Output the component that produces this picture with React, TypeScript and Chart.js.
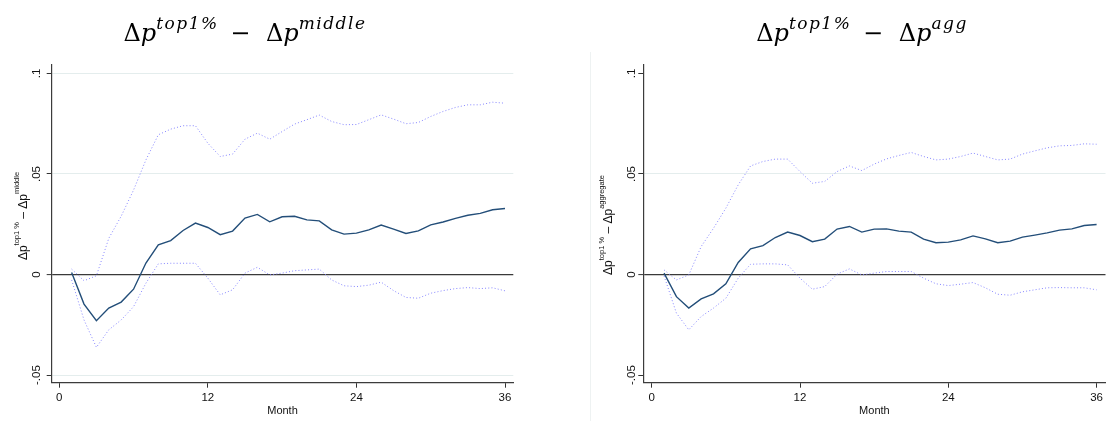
import React, { useEffect, useRef } from "react";
import { Chart, registerables } from "chart.js";

Chart.register(...registerables);

// Months after the shock
const months = [
  1, 2, 3, 4, 5, 6, 7, 8, 9, 10, 11, 12, 13, 14, 15, 16, 17, 18,
  19, 20, 21, 22, 23, 24, 25, 26, 27, 28, 29, 30, 31, 32, 33, 34, 35, 36,
];

// Top 1% minus middle: point estimate and confidence band
const middleEst = [
  0.001, -0.0147, -0.023, -0.0167, -0.0137, -0.0073, 0.0057, 0.0148, 0.0169, 0.0219, 0.0256, 0.0234,
  0.0198, 0.0216, 0.0281, 0.0299, 0.0262, 0.0287, 0.029, 0.0272, 0.0267, 0.0222, 0.0201, 0.0206,
  0.0222, 0.0246, 0.0226, 0.0204, 0.0217, 0.0247, 0.0261, 0.0279, 0.0295, 0.0304, 0.0322, 0.0328,
];
const middleUpper = [
  0.0027, -0.0031, -0.0006, 0.018, 0.029, 0.042, 0.057, 0.0695, 0.0723, 0.074, 0.074, 0.0653,
  0.0587, 0.0599, 0.0673, 0.0703, 0.0673, 0.0711, 0.0748, 0.077, 0.0793, 0.0761, 0.0745, 0.0746,
  0.077, 0.0794, 0.0773, 0.075, 0.0756, 0.0786, 0.0811, 0.0831, 0.0844, 0.0844, 0.0857, 0.0852,
];
const middleLower = [
  -0.0027, -0.0226, -0.0362, -0.0275, -0.0226, -0.016, -0.0043, 0.0053, 0.0056, 0.0056, 0.0056, -0.0018,
  -0.0101, -0.0076, 0.0007, 0.0036, -0.0002, 0.0007, 0.0019, 0.0023, 0.0027, -0.0027, -0.0056, -0.006,
  -0.0053, -0.0038, -0.008, -0.0114, -0.0118, -0.0093, -0.008, -0.007, -0.0065, -0.007, -0.0066, -0.0081,
];

// Top 1% minus aggregate: point estimate and confidence band
const aggEst = [
  0.0007, -0.011, -0.0167, -0.0121, -0.0096, -0.0046, 0.006, 0.0128, 0.0144, 0.0184, 0.0211, 0.0194,
  0.0163, 0.0176, 0.0226, 0.0239, 0.0211, 0.0226, 0.0227, 0.0216, 0.0211, 0.0176, 0.0158, 0.0161,
  0.0172, 0.0192, 0.0177, 0.0158, 0.0166, 0.0186, 0.0196, 0.0207, 0.0221, 0.0227, 0.0244, 0.0249,
];
const aggUpper = [
  0.0023, -0.0027, -0.0002, 0.0139, 0.023, 0.033, 0.0446, 0.054, 0.0562, 0.0574, 0.0574, 0.0512,
  0.0454, 0.0463, 0.0512, 0.054, 0.0517, 0.0549, 0.0575, 0.0592, 0.0607, 0.0587, 0.057, 0.0574,
  0.0587, 0.0604, 0.0587, 0.057, 0.0574, 0.0599, 0.0615, 0.063, 0.064, 0.0642, 0.065, 0.0648,
];
const aggLower = [
  -0.0007, -0.0192, -0.0275, -0.0209, -0.0167, -0.0118, -0.0018, 0.0051, 0.0053, 0.0053, 0.0048, -0.0018,
  -0.0073, -0.006, 0.0002, 0.0028, -0.0002, 0.0007, 0.0015, 0.0015, 0.0015, -0.0018, -0.0046, -0.0055,
  -0.0048, -0.004, -0.0066, -0.0098, -0.0103, -0.0086, -0.0076, -0.0066, -0.0065, -0.0066, -0.0066, -0.0076,
];

// Axis ticks
const xTicks = [0, 12, 24, 36];
const yTicks = [-0.05, 0, 0.05, 0.1];
const yTickLabels = ["-.05", "0", ".05", ".1"];
const yMin = -0.0538;
const yMax = 0.1042;

const CANVAS_H = 421;
const PLOT_TOP = 65;
const PLOT_BOTTOM = 382.7;

const SERIF = "'DejaVu Serif', 'Liberation Serif', serif";
const SANS = "'Liberation Sans', Arial, sans-serif";

type Seg = { text: string; font: string; rise?: number; spacing?: number };

function drawSegments(ctx: CanvasRenderingContext2D, segs: Seg[], cx: number, baseline: number) {
  const widths = segs.map((s) => {
    ctx.font = s.font;
    (ctx as any).letterSpacing = `${s.spacing ?? 0}px`;
    return ctx.measureText(s.text).width;
  });
  const total = widths.reduce((a, b) => a + b, 0);
  let x = cx - total / 2;
  ctx.textAlign = "left";
  ctx.textBaseline = "alphabetic";
  segs.forEach((s, i) => {
    ctx.font = s.font;
    (ctx as any).letterSpacing = `${s.spacing ?? 0}px`;
    ctx.fillText(s.text, x, baseline - (s.rise ?? 0));
    x += widths[i];
  });
  (ctx as any).letterSpacing = "0px";
}

function headline(sup2: string): Seg[] {
  const base = `24px ${SERIF}`;
  const it = `italic 24px ${SERIF}`;
  const sup = `italic 17px ${SERIF}`;
  return [
    { text: "Δ", font: base },
    { text: "p", font: it },
    { text: "top1%", font: sup, rise: 12, spacing: 1.5 },
    { text: " − ", font: base, spacing: 4 },
    { text: "Δ", font: base },
    { text: "p", font: it },
    { text: sup2, font: sup, rise: 12, spacing: 1.5 },
  ];
}

function axisTitle(sup2: string): Seg[] {
  const base = `12px ${SANS}`;
  const sup = `7.5px ${SANS}`;
  return [
    { text: "Δp", font: base },
    { text: "top1 %", font: sup, rise: 8.5 },
    { text: " – Δp", font: base },
    { text: sup2, font: sup, rise: 8.5 },
  ];
}

interface PanelSpec {
  pageLeft: number;
  width: number;
  plotLeft: number;
  plotRight: number;
  xMin: number;
  xMax: number;
  est: number[];
  upper: number[];
  lower: number[];
  gridValues: number[];
  title: Seg[];
  titleX: number;
  yTitle: Seg[];
  yTitleX: number;
  yTitleY: number;
  tickLabelX: number;
}

const panels: PanelSpec[] = [
  {
    pageLeft: 0,
    width: 575,
    plotLeft: 51.7,
    plotRight: 513.3,
    xMin: -0.61,
    xMax: 36.67,
    est: middleEst,
    upper: middleUpper,
    lower: middleLower,
    gridValues: [-0.05, 0.05, 0.1],
    title: headline("middle"),
    titleX: 245,
    yTitle: axisTitle("middle"),
    yTitleX: 27.3,
    yTitleY: 216,
    tickLabelX: 40,
  },
  {
    pageLeft: 592,
    width: 517,
    plotLeft: 51.3,
    plotRight: 513.5,
    xMin: -0.68,
    xMax: 36.72,
    est: aggEst,
    upper: aggUpper,
    lower: aggLower,
    gridValues: [0.05],
    title: headline("agg"),
    titleX: 270,
    yTitle: axisTitle("aggregate"),
    yTitleX: 20,
    yTitleY: 225,
    tickLabelX: 42.7,
  },
];

const toPoints = (vals: number[]) => months.map((m, i) => ({ x: m, y: vals[i] }));

function Panel({ spec }: { spec: PanelSpec }) {
  const ref = useRef<HTMLCanvasElement | null>(null);

  useEffect(() => {
    if (!ref.current) return;

    const textPlugin = {
      id: "panelText",
      afterDraw(chart: any) {
        const ctx: CanvasRenderingContext2D = chart.ctx;
        const yScale = chart.scales.y;
        ctx.save();
        ctx.fillStyle = "#000";
        drawSegments(ctx, spec.title, spec.titleX, 40.7);

        ctx.font = `11.5px ${SANS}`;
        yTicks.forEach((v, i) => {
          const py = yScale.getPixelForValue(v);
          ctx.save();
          ctx.translate(spec.tickLabelX, py);
          ctx.rotate(-Math.PI / 2);
          ctx.textAlign = "center";
          ctx.textBaseline = "alphabetic";
          ctx.fillStyle = "#111";
          ctx.fillText(yTickLabels[i], 0, 0);
          ctx.restore();
        });

        ctx.save();
        ctx.translate(spec.yTitleX, spec.yTitleY);
        ctx.rotate(-Math.PI / 2);
        ctx.fillStyle = "#111";
        drawSegments(ctx, spec.yTitle, 0, 0);
        ctx.restore();
        ctx.restore();
      },
    };

    const bandStyle = {
      borderColor: "#8585ff",
      borderWidth: 1,
      borderDash: [1, 2.2],
      pointRadius: 0,
      tension: 0,
      fill: false,
    };

    const chart = new Chart(ref.current, {
      type: "line",
      data: {
        datasets: [
          { label: "upper", data: toPoints(spec.upper), ...bandStyle },
          { label: "lower", data: toPoints(spec.lower), ...bandStyle },
          {
            label: "estimate",
            data: toPoints(spec.est),
            borderColor: "#234e79",
            borderWidth: 1.4,
            pointRadius: 0,
            tension: 0,
            fill: false,
          },
        ],
      },
      options: {
        responsive: false,
        animation: false,
        events: [],
        layout: {
          padding: { left: 0, right: spec.width - spec.plotRight, top: PLOT_TOP, bottom: 0 },
        },
        plugins: {
          legend: { display: false },
          tooltip: { enabled: false },
          title: { display: false },
        },
        scales: {
          x: {
            type: "linear",
            min: spec.xMin,
            max: spec.xMax,
            afterBuildTicks: (s: any) => {
              s.ticks = xTicks.map((v) => ({ value: v }));
            },
            afterFit: (s: any) => {
              s.height = CANVAS_H - PLOT_BOTTOM;
            },
            grid: {
              drawOnChartArea: false,
              drawTicks: true,
              tickLength: 5,
              tickColor: "#333",
              tickWidth: 1,
            },
            border: { color: "#3c3c3c", width: 1.2 },
            ticks: {
              autoSkip: false,
              maxRotation: 0,
              minRotation: 0,
              padding: 3,
              color: "#111",
              font: { family: SANS, size: 11.5 },
              callback: (v: any) => String(v),
            },
            title: {
              display: true,
              text: "Month",
              color: "#111",
              font: { family: SANS, size: 11 },
              padding: { top: 0, bottom: 3 },
            },
          },
          y: {
            type: "linear",
            min: yMin,
            max: yMax,
            afterBuildTicks: (s: any) => {
              s.ticks = yTicks.map((v) => ({ value: v }));
            },
            afterFit: (s: any) => {
              s.width = spec.plotLeft;
            },
            ticks: { display: false },
            grid: {
              color: (c: any) => {
                const v = c.tick ? c.tick.value : null;
                if (v === 0) return "#3a3a3a";
                return spec.gridValues.includes(v) ? "#e4eded" : "rgba(0,0,0,0)";
              },
              lineWidth: (c: any) => (c.tick && c.tick.value === 0 ? 1.2 : 1),
              drawTicks: true,
              tickLength: 5,
              tickColor: "#333",
              tickWidth: 1,
            },
            border: { color: "#3c3c3c", width: 1.2 },
          },
        },
      },
      plugins: [textPlugin],
    } as any);

    return () => chart.destroy();
  }, [spec]);

  return (
    <canvas
      ref={ref}
      width={spec.width}
      height={CANVAS_H}
      style={{ position: "absolute", left: spec.pageLeft, top: 0, width: spec.width, height: CANVAS_H }}
    />
  );
}

export default function App() {
  return (
    <div
      style={{
        position: "absolute",
        left: 0,
        top: 0,
        width: 1109,
        height: CANVAS_H,
        background: "#fff",
        overflow: "hidden",
      }}
    >
      <Panel spec={panels[0]} />
      <div
        style={{ position: "absolute", left: 590, top: 52, width: 1, height: CANVAS_H - 52, background: "#eef2f2" }}
      />
      <Panel spec={panels[1]} />
    </div>
  );
}
